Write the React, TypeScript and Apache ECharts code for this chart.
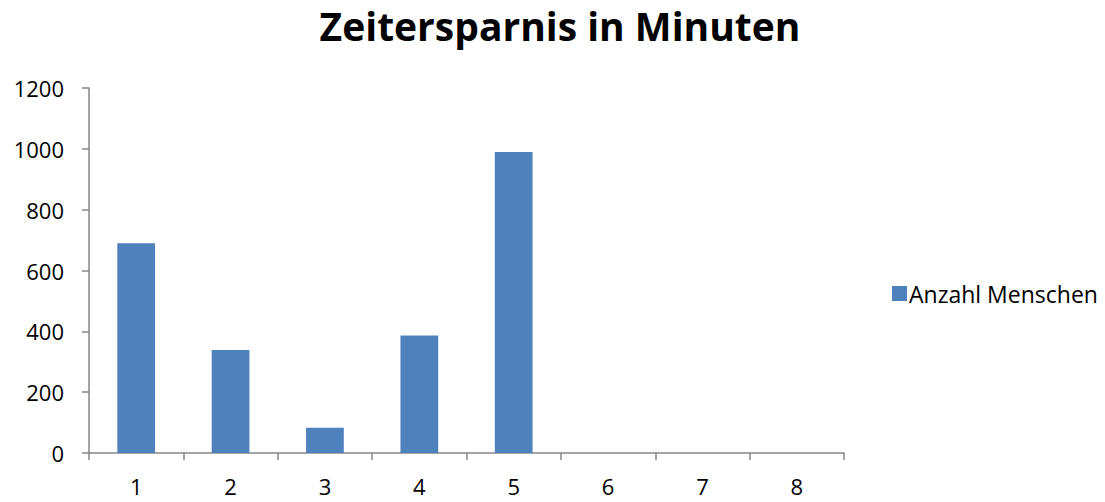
import React, { useEffect, useRef } from "react";
import * as echarts from "echarts";

const titleText = "Zeitersparnis in Minuten";
const categories = ["1", "2", "3", "4", "5", "6", "7", "8"];
const seriesName = "Anzahl Menschen";
const values = [690, 339, 83, 386, 990, 0, 0, 0];
const yMin = 0;
const yMax = 1200;
const yInterval = 200;

export default function App() {
  const ref = useRef<HTMLDivElement>(null);
  useEffect(() => {
    if (!ref.current) return;
    const chart = echarts.init(ref.current, undefined, { renderer: "svg" });
    const font = "Open Sans, Noto Sans, sans-serif";
    chart.setOption({
      animation: false,
      backgroundColor: "#ffffff",
      title: {
        text: titleText,
        left: 560,
        top: 3,
        padding: 0,
        textAlign: "center",
        textStyle: { fontFamily: font, fontWeight: "bold", fontSize: 39, lineHeight: 44, color: "#000000" },
      },
      legend: {
        data: [seriesName],
        left: 887,
        top: 277,
        itemWidth: 15,
        itemHeight: 15,
        itemGap: 6,
        icon: "rect",
        textStyle: { fontFamily: font, fontSize: 23, color: "#000000", padding: [0, 0, 0, -3] },
      },
      grid: { left: 89, right: 261, top: 88, bottom: 49, containLabel: false },
      xAxis: {
        type: "category",
        data: categories,
        boundaryGap: true,
        axisLine: { show: true, lineStyle: { color: "#868686", width: 1.5 } },
        axisTick: { show: true, length: 7, lineStyle: { color: "#868686", width: 1.5 } },
        axisLabel: { fontFamily: font, fontSize: 22, color: "#000000", margin: 22 },
      },
      yAxis: {
        type: "value",
        min: yMin,
        max: yMax,
        interval: yInterval,
        axisLine: { show: true, lineStyle: { color: "#868686", width: 1.5 } },
        axisTick: { show: true, length: 7, lineStyle: { color: "#868686", width: 1.5 } },
        splitLine: { show: false },
        axisLabel: {
          fontFamily: font,
          fontSize: 22,
          color: "#000000",
          margin: 25,
          formatter: (v: number) => String(v),
        },
      },
      series: [
        {
          name: seriesName,
          type: "bar",
          data: values,
          barWidth: "40%",
          itemStyle: { color: "#4f81bd" },
        },
      ],
    });
    return () => chart.dispose();
  }, []);
  return <div ref={ref} style={{ width: 1105, height: 502, position: "absolute", left: 0, top: 0 }} />;
}
